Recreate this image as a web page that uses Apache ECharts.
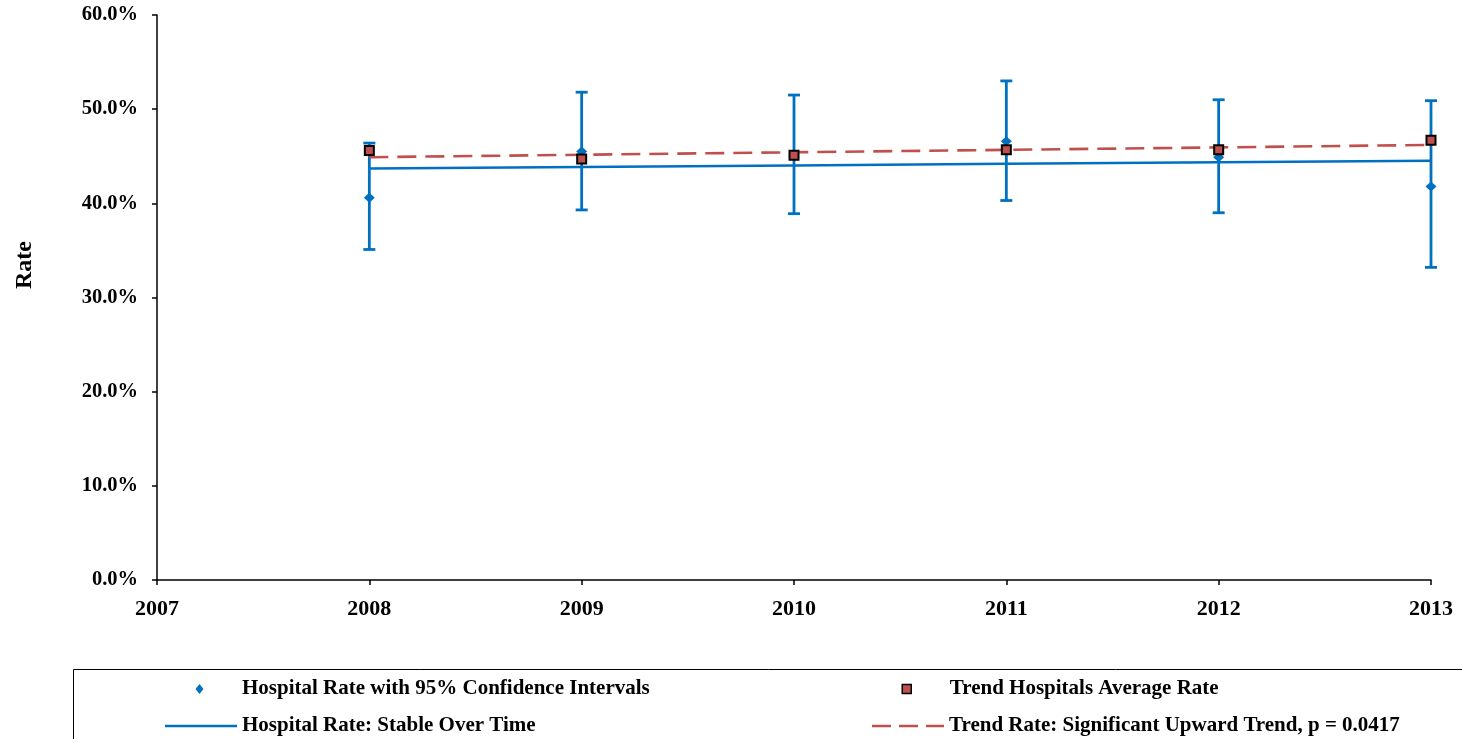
<!DOCTYPE html>
<html>
<head>
<meta charset="utf-8">
<script src="https://cdn.jsdelivr.net/npm/echarts@6/dist/echarts.min.js"></script>
<style>
  html, body { margin: 0; padding: 0; background: #ffffff; }
  #chart { width: 1462px; height: 739px; }
</style>
</head>
<body>
<div id="chart"></div>
<script>
// Annual hospital rate (%) with 95% confidence limits
const years = [2008, 2009, 2010, 2011, 2012, 2013];
const hospitalRate = [40.6, 45.5, 45.0, 46.6, 44.9, 41.8];
const ciLower = [35.1, 39.3, 38.9, 40.3, 39.0, 33.2];
const ciUpper = [46.4, 51.8, 51.5, 53.0, 51.0, 50.9];
// Average rate across trend hospitals (%)
const trendAverage = [45.6, 44.7, 45.1, 45.7, 45.7, 46.7];
// Fitted trend lines (%)
const hospitalFit = [43.70, 43.86, 44.03, 44.20, 44.37, 44.53];
const trendFit = [44.90, 45.16, 45.42, 45.68, 45.94, 46.20];
// Axis ranges
const xRange = [2007, 2013];
const yRange = [0, 60];
const yStep = 10;

const NAME_POINTS = 'Hospital Rate with 95% Confidence Intervals';
const NAME_FIT = 'Hospital Rate: Stable Over Time';
const NAME_AVG = 'Trend Hospitals Average Rate';
const NAME_TREND = 'Trend Rate: Significant Upward Trend, p = 0.0417';

const BLUE = '#0070C0';
const RED = '#C0504D';
const FONT = "'Liberation Serif', 'Times New Roman', serif";

const pair = (xs, ys) => xs.map((x, i) => [x, ys[i]]);

const legendText = { fontFamily: FONT, fontWeight: 'bold', fontSize: 21, color: '#000', lineHeight: 22 };

// One legend block per entry so each icon can have its own size
function legendEntry(left, top, item, w, h) {
  return {
    left: left, top: top, orient: 'vertical', padding: 0,
    itemWidth: w, itemHeight: h, symbolKeepAspect: false,
    selectedMode: false, textStyle: legendText,
    data: [item]
  };
}

// Legend icons drawn in a 72x10 box (the leading moves fix the box extent)
const DIAMOND_ICON = 'path://M0,0M72,10M34.5,0L38.5,5L34.5,10L30.5,5Z';
const SQUARE_ICON = 'path://M0,0M72,10M29.5,0.5H38.5V9.5H29.5Z';
const SOLID_ICON = 'path://M0,0H72V3H0Z';
const DASH_ICON = 'path://M0,0H19V3H0Z M27,0H46V3H27Z M54,0H72V3H54Z';

const chart = echarts.init(document.getElementById('chart'), null, { renderer: 'canvas' });

chart.setOption({
  animation: false,
  backgroundColor: '#ffffff',
  grid: { left: 157, right: 31, top: 15, bottom: 159 },
  xAxis: {
    type: 'value',
    min: xRange[0], max: xRange[1], interval: 1,
    splitLine: { show: false },
    axisLine: { lineStyle: { color: '#000', width: 1.5 } },
    axisTick: { show: true, length: 5, lineStyle: { color: '#000', width: 1.5 } },
    axisLabel: { margin: 18, fontFamily: FONT, fontWeight: 'bold', fontSize: 22, color: '#000',
      formatter: v => String(Math.round(v)) }
  },
  yAxis: {
    type: 'value',
    min: yRange[0], max: yRange[1], interval: yStep,
    splitLine: { show: false },
    axisLine: { show: true, lineStyle: { color: '#000', width: 1.5 } },
    axisTick: { show: true, length: 5, lineStyle: { color: '#000', width: 1.5 } },
    axisLabel: { margin: 19, fontFamily: FONT, fontWeight: 'bold', fontSize: 20.5, color: '#000',
      formatter: v => v.toFixed(1) + '%' }
  },
  legend: [
    legendEntry(165, 678, { name: NAME_POINTS, icon: DIAMOND_ICON,
      itemStyle: { color: BLUE, borderWidth: 0 } }, 72, 10),
    legendEntry(165, 715, { name: NAME_FIT, icon: SOLID_ICON,
      itemStyle: { color: BLUE, borderWidth: 0 } }, 72, 2.5),
    legendEntry(872, 678, { name: NAME_AVG, icon: SQUARE_ICON,
      itemStyle: { color: RED, borderColor: '#000', borderWidth: 1.5 } }, 72, 10),
    legendEntry(872, 715, { name: NAME_TREND, icon: DASH_ICON,
      itemStyle: { color: RED, borderWidth: 0 } }, 72, 2.5)
  ],
  graphic: [
    {
      type: 'rect', silent: true, z: 0,
      shape: { x: 73.5, y: 669.5, width: 1420, height: 120 },
      style: { fill: null, stroke: '#000', lineWidth: 1 }
    },
    {
      type: 'text', silent: true,
      x: 25, y: 265, rotation: Math.PI / 2,
      style: { text: 'Rate', font: "bold 24px 'Liberation Serif', 'Times New Roman', serif",
        fill: '#000', align: 'center', verticalAlign: 'middle' }
    }
  ],
  series: [
    {
      name: 'Confidence Interval',
      type: 'custom',
      z: 2,
      data: years.map((y, i) => [y, ciLower[i], ciUpper[i]]),
      renderItem: (params, api) => {
        const x = api.value(0);
        const lo = api.coord([x, api.value(1)]);
        const hi = api.coord([x, api.value(2)]);
        const cap = 6;
        const style = { stroke: BLUE, lineWidth: 2.8 };
        return {
          type: 'group',
          children: [
            { type: 'line', shape: { x1: hi[0], y1: hi[1], x2: lo[0], y2: lo[1] }, style },
            { type: 'line', shape: { x1: hi[0] - cap, y1: hi[1], x2: hi[0] + cap, y2: hi[1] }, style },
            { type: 'line', shape: { x1: lo[0] - cap, y1: lo[1], x2: lo[0] + cap, y2: lo[1] }, style }
          ]
        };
      }
    },
    {
      name: NAME_FIT,
      type: 'line',
      z: 3,
      symbol: 'none',
      data: pair(years, hospitalFit),
      lineStyle: { color: BLUE, width: 2.5 },
      itemStyle: { color: BLUE }
    },
    {
      name: NAME_TREND,
      type: 'line',
      z: 4,
      symbol: 'none',
      data: pair(years, trendFit),
      lineStyle: { color: RED, width: 2.6, type: [19, 9] },
      itemStyle: { color: RED }
    },
    {
      name: NAME_POINTS,
      type: 'scatter',
      z: 5,
      symbol: 'diamond',
      symbolSize: [11, 10],
      data: pair(years, hospitalRate),
      itemStyle: { color: BLUE, opacity: 1 }
    },
    {
      name: NAME_AVG,
      type: 'scatter',
      z: 6,
      symbol: 'rect',
      symbolSize: 9,
      data: pair(years, trendAverage),
      itemStyle: { color: RED, borderColor: '#000', borderWidth: 2, opacity: 1 }
    }
  ]
});
</script>
</body>
</html>
